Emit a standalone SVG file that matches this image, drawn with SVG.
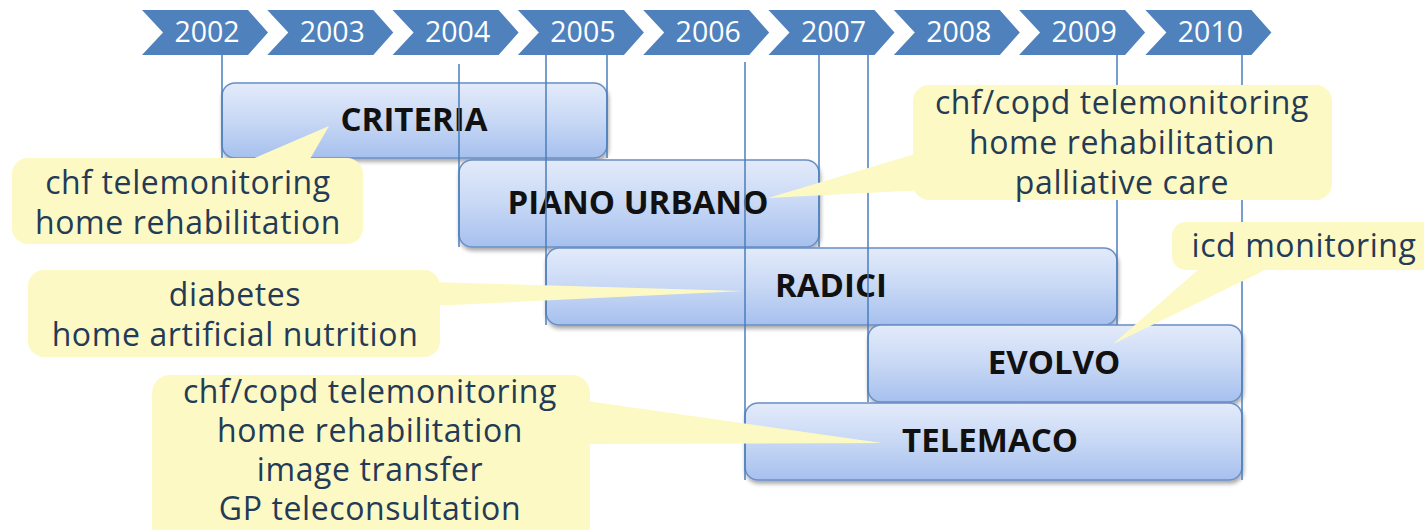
<svg xmlns="http://www.w3.org/2000/svg" width="1424" height="530" viewBox="0 0 1424 530">
  <defs>
    <linearGradient id="boxFill" x1="0" y1="0" x2="0" y2="1">
      <stop offset="0" stop-color="#E3EBFA"/>
      <stop offset="0.5" stop-color="#C8D8F5"/>
      <stop offset="1" stop-color="#A6C0EE"/>
    </linearGradient>
    <filter id="shadow" x="-5%" y="-10%" width="110%" height="130%">
      <feGaussianBlur in="SourceAlpha" stdDeviation="2"/>
      <feOffset dx="1" dy="3" result="off"/>
      <feComponentTransfer><feFuncA type="linear" slope="0.35"/></feComponentTransfer>
      <feMerge><feMergeNode/><feMergeNode in="SourceGraphic"/></feMerge>
    </filter>
    <polygon id="chevron" points="0,10 106,10 126,32.5 106,55 0,55 21,32.5"/>
  </defs>
  <style>
    .chev { fill: #4F81BD; }
    .year { font-family: "Open Sans", "Liberation Sans", sans-serif; font-size: 28.5px; fill: #FFFFFF; text-anchor: middle; }
    .box { fill: url(#boxFill); stroke: #6A8FC6; stroke-width: 1.5; filter: url(#shadow); }
    .label { font-family: "Open Sans", "Liberation Sans", sans-serif; font-weight: bold; font-size: 33px; fill: #111111; text-anchor: middle; }
    .tick { stroke: #4A7EBB; stroke-width: 1.5; fill: none; }
    .note { fill: #FDF9C4; }
    .noteText { font-family: "Open Sans", "Liberation Sans", sans-serif; font-size: 32px; letter-spacing: 0.6px; fill: #243B57; text-anchor: middle; }
  </style>

  <!-- timeline of years -->
  <g id="timeline">
    <g id="y2002"><use href="#chevron" class="chev" x="142"/><text class="year" x="207" y="42">2002</text></g>
    <g id="y2003"><use href="#chevron" class="chev" x="267.3"/><text class="year" x="332.3" y="42">2003</text></g>
    <g id="y2004"><use href="#chevron" class="chev" x="392.6"/><text class="year" x="457.6" y="42">2004</text></g>
    <g id="y2005"><use href="#chevron" class="chev" x="517.9"/><text class="year" x="582.9" y="42">2005</text></g>
    <g id="y2006"><use href="#chevron" class="chev" x="643.2"/><text class="year" x="708.2" y="42">2006</text></g>
    <g id="y2007"><use href="#chevron" class="chev" x="768.5"/><text class="year" x="833.5" y="42">2007</text></g>
    <g id="y2008"><use href="#chevron" class="chev" x="893.8"/><text class="year" x="958.8" y="42">2008</text></g>
    <g id="y2009"><use href="#chevron" class="chev" x="1019.1"/><text class="year" x="1084.1" y="42">2009</text></g>
    <g id="y2010"><use href="#chevron" class="chev" x="1145.4"/><text class="year" x="1210.4" y="42">2010</text></g>
  </g>

  <!-- project bars -->
  <g id="criteria"><rect class="box" x="222" y="83" width="385" height="75" rx="13"/><text class="label" x="414" y="131">CRITERIA</text></g>
  <g id="piano-urbano"><rect class="box" x="459" y="160" width="360" height="87" rx="13"/><text class="label" x="638" y="214">PIANO URBANO</text></g>
  <g id="radici"><rect class="box" x="546" y="248" width="571" height="77" rx="13"/><text class="label" x="831" y="297">RADICI</text></g>
  <g id="evolvo"><rect class="box" x="868" y="325" width="374" height="77" rx="13"/><text class="label" x="1054" y="374">EVOLVO</text></g>
  <g id="telemaco"><rect class="box" x="745" y="403" width="497" height="77" rx="13"/><text class="label" x="990" y="452">TELEMACO</text></g>

  <!-- start/end markers from the year axis -->
  <g id="connectors">
    <line class="tick" x1="222" y1="55" x2="222" y2="158"/>
    <line class="tick" x1="459" y1="64" x2="459" y2="247"/>
    <line class="tick" x1="546" y1="55" x2="546" y2="325"/>
    <line class="tick" x1="607" y1="55" x2="607" y2="158"/>
    <line class="tick" x1="745" y1="62" x2="745" y2="480"/>
    <line class="tick" x1="819" y1="55" x2="819" y2="247"/>
    <line class="tick" x1="868" y1="55" x2="868" y2="402"/>
    <line class="tick" x1="1117" y1="55" x2="1117" y2="325"/>
    <line class="tick" x1="1242" y1="55" x2="1242" y2="480"/>
  </g>

  <!-- callouts -->
  <g id="note-criteria">
    <rect class="note" x="12" y="158" width="351" height="86" rx="16"/>
    <polygon class="note" points="329,126 236,166 306,166"/>
    <text class="noteText" x="188" y="194">chf telemonitoring</text>
    <text class="noteText" x="188" y="234">home rehabilitation</text>
  </g>
  <g id="note-piano">
    <rect class="note" x="913" y="85" width="419" height="115" rx="16"/>
    <polygon class="note" points="768,198 925,151 925,190"/>
    <text class="noteText" x="1122" y="114">chf/copd telemonitoring</text>
    <text class="noteText" x="1122" y="154">home rehabilitation</text>
    <text class="noteText" x="1122" y="194">palliative care</text>
  </g>
  <g id="note-radici">
    <rect class="note" x="28" y="270" width="412" height="87" rx="16"/>
    <polygon class="note" points="743,291 430,282 430,306"/>
    <text class="noteText" x="235" y="306">diabetes</text>
    <text class="noteText" x="235" y="346">home artificial nutrition</text>
  </g>
  <g id="note-evolvo">
    <rect class="note" x="1172" y="222" width="270" height="48" rx="14"/>
    <polygon class="note" points="1113,344 1207,262 1282,262"/>
    <text class="noteText" x="1304" y="257">icd monitoring</text>
  </g>
  <g id="note-telemaco">
    <rect class="note" x="152" y="375" width="438" height="170" rx="18"/>
    <polygon class="note" points="882,443 580,400 580,444"/>
    <text class="noteText" x="370" y="403">chf/copd telemonitoring</text>
    <text class="noteText" x="370" y="442">home rehabilitation</text>
    <text class="noteText" x="370" y="481">image transfer</text>
    <text class="noteText" x="370" y="520">GP teleconsultation</text>
  </g>
</svg>
